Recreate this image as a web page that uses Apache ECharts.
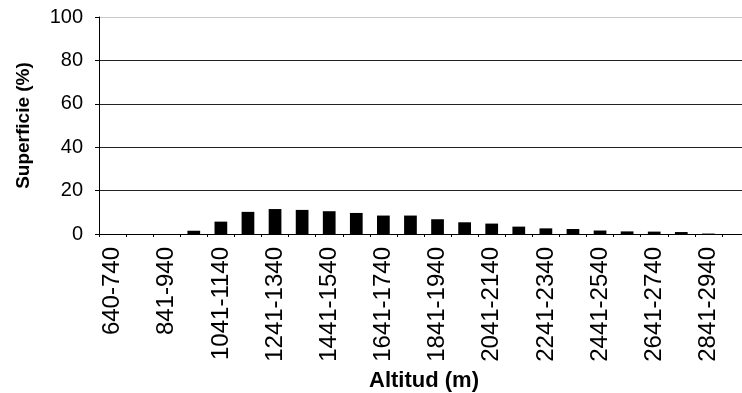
<!DOCTYPE html>
<html>
<head>
<meta charset="utf-8">
<script src="https://cdn.jsdelivr.net/npm/echarts@6/dist/echarts.min.js"></script>
<style>
  html, body { margin: 0; padding: 0; background: #fff; }
  #main { width: 742px; height: 393px; }
</style>
</head>
<body>
<div id="main"></div>
<script>
// rangos de altitud (m)
var altitudes = ['640-740', '741-840', '841-940', '941-1040', '1041-1140', '1141-1240',
    '1241-1340', '1341-1440', '1441-1540', '1541-1640', '1641-1740', '1741-1840',
    '1841-1940', '1941-2040', '2041-2140', '2141-2240', '2241-2340', '2341-2440',
    '2441-2540', '2541-2640', '2641-2740', '2741-2840', '2841-2940', '2941-3040'];
// superficie (%) por rango
var superficie = [0, 0, 0, 1.5, 5.7, 10.2, 11.5, 11.1, 10.5, 9.7, 8.5, 8.5,
    6.8, 5.4, 4.8, 3.4, 2.6, 2.3, 1.6, 1.2, 1.1, 0.9, 0.2, 0];
var yTicks = [0, 20, 40, 60, 80, 100];

var myChart = echarts.init(document.getElementById('main'));

var font = '"Liberation Sans", Arial, sans-serif';

var option = {
    animation: false,
    textStyle: { fontFamily: font, color: '#000' },
    grid: {
        left: 99,
        right: -7,
        top: 17,
        bottom: 159,
        containLabel: false,
        outerBoundsMode: 'none'
    },
    xAxis: {
        type: 'category',
        data: altitudes,
        name: 'Altitud (m)',
        nameLocation: 'middle',
        nameGap: 131,
        nameTextStyle: { fontSize: 22, fontWeight: 'bold', color: '#000', fontFamily: font },
        axisLine: { lineStyle: { color: '#000', width: 1 } },
        axisTick: { show: true, interval: 0, length: 3, lineStyle: { color: '#000' } },
        axisLabel: {
            interval: 1,
            rotate: 90,
            margin: 13,
            fontSize: 24,
            color: '#000',
            fontFamily: font
        },
        splitLine: { show: false }
    },
    yAxis: {
        type: 'value',
        min: yTicks[0],
        max: yTicks[yTicks.length - 1],
        interval: 20,
        name: 'Superficie (%)',
        nameLocation: 'middle',
        nameGap: 66,
        nameTextStyle: { fontSize: 19, fontWeight: 'bold', color: '#000', fontFamily: font },
        axisLine: { show: true, lineStyle: { color: '#000', width: 1 } },
        axisTick: { show: true, length: 4, lineStyle: { color: '#000' } },
        axisLabel: { margin: 16, fontSize: 20, color: '#000', fontFamily: font },
        splitLine: {
            show: true,
            lineStyle: { color: ['#000', '#222', '#222', '#222', '#222', '#c8c8c8'], width: 1 }
        }
    },
    series: [{
        name: 'Superficie',
        type: 'bar',
        barWidth: '47%',
        itemStyle: { color: '#000' },
        data: superficie
    }]
};

myChart.setOption(option, true);
</script>
</body>
</html>
